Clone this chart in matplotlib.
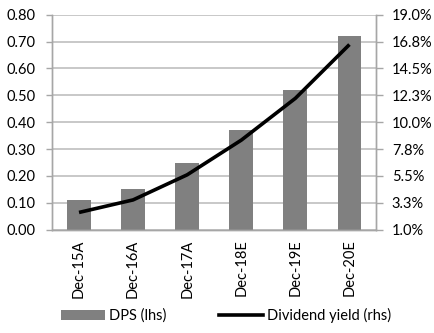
import matplotlib
matplotlib.use("Agg")
import matplotlib.pyplot as plt
from matplotlib.patches import Patch
from matplotlib.lines import Line2D

plt.rcParams['font.family'] = ['Lato', 'DejaVu Sans']

years = ['Dec-15A', 'Dec-16A', 'Dec-17A', 'Dec-18E', 'Dec-19E', 'Dec-20E']
dps = [0.11, 0.15, 0.25, 0.37, 0.52, 0.72]
div_yield = [2.45, 3.5, 5.6, 8.5, 12.0, 16.5]

left_ticks = [0.0, 0.1, 0.2, 0.3, 0.4, 0.5, 0.6, 0.7, 0.8]
right_ticks = [1.0, 3.25, 5.5, 7.75, 10.0, 12.25, 14.5, 16.75, 19.0]
right_labels = ['1.0%', '3.3%', '5.5%', '7.8%', '10.0%', '12.3%', '14.5%', '16.8%', '19.0%']

axis_grey = '#A6A6A6'
grid_grey = '#C8C8C8'
fs = 10.5

fig = plt.figure(figsize=(4.35, 3.33), dpi=100)
ax = fig.add_axes([0.1195, 0.310, 0.746, 0.646])

x = list(range(len(years)))
ax.bar(x, dps, width=0.44, color='#808080', zorder=2)
ax.set_xlim(-0.5, len(years) - 0.5)
ax.set_ylim(0, 0.8)
ax.set_yticks(left_ticks)
ax.set_yticklabels(['%.2f' % t for t in left_ticks])
ax.yaxis.grid(True, color=grid_grey, linewidth=1.4, zorder=0)
ax.set_axisbelow(True)
ax.set_xticks(x)
ax.set_xticklabels(years, rotation=90)
ax.tick_params(axis='x', length=0, pad=7, labelsize=fs)
ax.tick_params(axis='y', length=4, width=1, color=axis_grey, labelsize=fs, pad=8)

ax2 = ax.twinx()
ax2.plot(x, div_yield, color='black', linewidth=2.6, solid_capstyle='butt', zorder=3)
ax2.set_ylim(1.0, 19.0)
ax2.set_yticks(right_ticks)
ax2.set_yticklabels(right_labels)
ax2.tick_params(axis='y', length=5, width=1, color=axis_grey, labelsize=fs, pad=6)

for a in (ax, ax2):
    a.spines['top'].set_visible(False)
    for s in ('left', 'right', 'bottom'):
        a.spines[s].set_color(axis_grey)
        a.spines[s].set_linewidth(1)

handles = [Patch(facecolor='#808080', edgecolor='none', label='DPS (lhs)'),
           Line2D([0], [0], color='black', linewidth=2.6, label='Dividend yield (rhs)')]
fig.legend(handles=handles, loc='lower center', bbox_to_anchor=(0.52, -0.01), ncol=2,
           frameon=False, fontsize=fs, handlelength=3.0, handletextpad=0.3,
           columnspacing=3.6)

fig.savefig('out.png', dpi=100)
